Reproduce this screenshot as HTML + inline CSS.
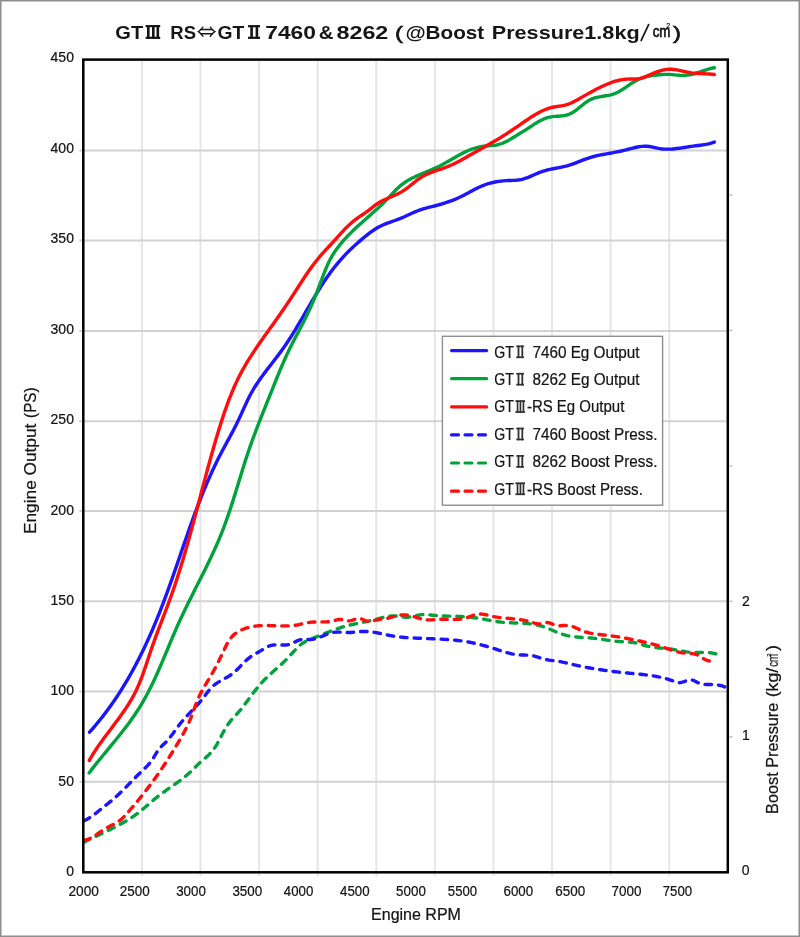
<!DOCTYPE html>
<html><head><meta charset="utf-8"><style>
html,body{margin:0;padding:0;background:#fff;}
svg{display:block;}
text{font-family:"Liberation Sans",sans-serif;stroke:#141414;stroke-width:0.22px;}
</style></head><body>
<svg width="800" height="937" viewBox="0 0 800 937">
<defs><filter id="bl" x="-1%" y="-1%" width="102%" height="102%" filterUnits="userSpaceOnUse"><feGaussianBlur stdDeviation="0.45 0.3"/></filter></defs>
<rect x="0" y="0" width="800" height="937" fill="#fff"/>
<g filter="url(#bl)">

<line x1="141.89" y1="59.60" x2="141.89" y2="876.30" stroke="#e6e6e6" stroke-width="2.0"/>
<line x1="200.48" y1="59.60" x2="200.48" y2="876.30" stroke="#e6e6e6" stroke-width="2.0"/>
<line x1="259.07" y1="59.60" x2="259.07" y2="876.30" stroke="#e6e6e6" stroke-width="2.0"/>
<line x1="317.66" y1="59.60" x2="317.66" y2="876.30" stroke="#e6e6e6" stroke-width="2.0"/>
<line x1="376.25" y1="59.60" x2="376.25" y2="876.30" stroke="#e6e6e6" stroke-width="2.0"/>
<line x1="434.85" y1="59.60" x2="434.85" y2="876.30" stroke="#e6e6e6" stroke-width="2.0"/>
<line x1="493.44" y1="59.60" x2="493.44" y2="876.30" stroke="#e6e6e6" stroke-width="2.0"/>
<line x1="552.03" y1="59.60" x2="552.03" y2="876.30" stroke="#e6e6e6" stroke-width="2.0"/>
<line x1="610.62" y1="59.60" x2="610.62" y2="876.30" stroke="#e6e6e6" stroke-width="2.0"/>
<line x1="669.21" y1="59.60" x2="669.21" y2="876.30" stroke="#e6e6e6" stroke-width="2.0"/>
<line x1="79.30" y1="150.40" x2="727.80" y2="150.40" stroke="#d2d2d2" stroke-width="2"/>
<line x1="79.30" y1="240.40" x2="727.80" y2="240.40" stroke="#d2d2d2" stroke-width="2"/>
<line x1="79.30" y1="330.90" x2="727.80" y2="330.90" stroke="#d2d2d2" stroke-width="2"/>
<line x1="79.30" y1="421.20" x2="727.80" y2="421.20" stroke="#d2d2d2" stroke-width="2"/>
<line x1="79.30" y1="511.00" x2="727.80" y2="511.00" stroke="#d2d2d2" stroke-width="2"/>
<line x1="79.30" y1="601.30" x2="727.80" y2="601.30" stroke="#d2d2d2" stroke-width="2"/>
<line x1="79.30" y1="691.60" x2="727.80" y2="691.60" stroke="#d2d2d2" stroke-width="2"/>
<line x1="79.30" y1="781.70" x2="727.80" y2="781.70" stroke="#d2d2d2" stroke-width="2"/>
<line x1="727.80" y1="736.85" x2="732.80" y2="736.85" stroke="#c8c8c8" stroke-width="1.5"/>
<line x1="727.80" y1="601.40" x2="732.80" y2="601.40" stroke="#c8c8c8" stroke-width="1.5"/>
<line x1="727.80" y1="465.95" x2="732.80" y2="465.95" stroke="#c8c8c8" stroke-width="1.5"/>
<line x1="727.80" y1="330.50" x2="732.80" y2="330.50" stroke="#c8c8c8" stroke-width="1.5"/>
<line x1="727.80" y1="195.05" x2="732.80" y2="195.05" stroke="#c8c8c8" stroke-width="1.5"/>
<path d="M84.02 842.14 L85.64 841.30 L87.27 840.47 L88.91 839.66 L90.55 838.85 L92.19 838.05 L93.84 837.25 L95.49 836.46 L97.14 835.68 L98.79 834.89 L100.44 834.11 L102.10 833.33 L103.75 832.54 L105.40 831.75 L107.05 830.96 L108.70 830.17 L110.34 829.37 L111.99 828.56 L113.62 827.74 L115.25 826.91 L116.88 826.07 L118.49 825.22 L120.11 824.35 L121.71 823.47 L123.30 822.58 L124.89 821.66 L126.46 820.73 L128.03 819.79 L129.58 818.82 L131.12 817.84 L132.64 816.83 L134.15 815.80 L135.65 814.76 L137.12 813.69 L138.58 812.60 L140.02 811.48 L141.45 810.34 L142.85 809.18 L144.25 808.01 L145.64 806.82 L147.02 805.63 L148.39 804.43 L149.77 803.23 L151.15 802.03 L152.53 800.84 L153.92 799.66 L155.33 798.49 L156.74 797.34 L158.18 796.21 L159.63 795.10 L161.09 794.00 L162.57 792.92 L164.05 791.85 L165.54 790.79 L167.04 789.73 L168.54 788.68 L170.04 787.64 L171.55 786.59 L173.05 785.55 L174.55 784.50 L176.05 783.45 L177.53 782.38 L179.01 781.31 L180.48 780.23 L181.93 779.13 L183.37 778.01 L184.80 776.88 L186.20 775.72 L187.59 774.54 L188.95 773.34 L190.29 772.11 L191.61 770.85 L192.91 769.57 L194.19 768.27 L195.48 766.97 L196.77 765.68 L198.07 764.39 L199.39 763.13 L200.75 761.90 L202.12 760.69 L203.52 759.50 L204.91 758.31 L206.29 757.11 L207.65 755.89 L208.97 754.64 L210.24 753.34 L211.46 751.99 L212.62 750.58 L213.72 749.13 L214.77 747.64 L215.78 746.11 L216.74 744.55 L217.66 742.97 L218.54 741.36 L219.40 739.74 L220.24 738.11 L221.07 736.47 L221.91 734.84 L222.75 733.21 L223.62 731.59 L224.51 729.99 L225.44 728.41 L226.40 726.86 L227.40 725.32 L228.43 723.82 L229.51 722.34 L230.62 720.90 L231.78 719.49 L232.97 718.11 L234.20 716.76 L235.45 715.43 L236.71 714.10 L237.95 712.76 L239.17 711.41 L240.35 710.03 L241.51 708.62 L242.64 707.20 L243.76 705.76 L244.86 704.30 L245.95 702.84 L247.03 701.37 L248.12 699.90 L249.20 698.42 L250.29 696.95 L251.39 695.48 L252.49 694.02 L253.61 692.56 L254.73 691.11 L255.86 689.67 L257.00 688.24 L258.16 686.82 L259.34 685.42 L260.53 684.04 L261.74 682.67 L262.97 681.32 L264.22 679.99 L265.49 678.69 L266.78 677.40 L268.10 676.14 L269.43 674.90 L270.77 673.67 L272.13 672.44 L273.49 671.23 L274.86 670.02 L276.23 668.81 L277.60 667.60 L278.96 666.39 L280.32 665.17 L281.67 663.93 L283.00 662.68 L284.32 661.41 L285.62 660.13 L286.90 658.82 L288.17 657.49 L289.42 656.16 L290.66 654.81 L291.91 653.47 L293.15 652.12 L294.40 650.79 L295.66 649.46 L296.93 648.15 L298.23 646.89 L299.56 645.67 L300.95 644.51 L302.39 643.44 L303.90 642.46 L305.47 641.55 L307.08 640.71 L308.73 639.93 L310.42 639.20 L312.13 638.50 L313.85 637.82 L315.59 637.16 L317.31 636.50 L319.04 635.83 L320.75 635.16 L322.45 634.48 L324.15 633.80 L325.85 633.13 L327.54 632.45 L329.24 631.78 L330.93 631.12 L332.63 630.47 L334.33 629.84 L336.03 629.22 L337.75 628.62 L339.47 628.04 L341.21 627.48 L342.95 626.95 L344.71 626.44 L346.48 625.96 L348.26 625.50 L350.04 625.07 L351.83 624.64 L353.62 624.24 L355.40 623.85 L357.19 623.47 L358.97 623.10 L360.75 622.73 L362.53 622.37 L364.31 622.00 L366.08 621.63 L367.86 621.26 L369.64 620.87 L371.41 620.48 L373.19 620.06 L374.96 619.63 L376.74 619.18 L378.52 618.70 L380.30 618.21 L382.08 617.72 L383.87 617.25 L385.65 616.82 L387.44 616.45 L389.24 616.15 L391.04 615.95 L392.84 615.86 L394.65 615.90 L396.46 616.06 L398.28 616.30 L400.09 616.58 L401.91 616.85 L403.72 617.08 L405.53 617.23 L407.33 617.25 L409.13 617.12 L410.92 616.86 L412.71 616.50 L414.49 616.08 L416.27 615.65 L418.06 615.24 L419.85 614.89 L421.65 614.64 L423.45 614.52 L425.26 614.53 L427.08 614.63 L428.90 614.80 L430.72 615.01 L432.55 615.24 L434.38 615.46 L436.20 615.64 L438.03 615.78 L439.86 615.88 L441.68 615.95 L443.51 616.01 L445.33 616.04 L447.16 616.08 L448.99 616.11 L450.81 616.14 L452.64 616.18 L454.47 616.23 L456.30 616.29 L458.13 616.36 L459.96 616.44 L461.79 616.53 L463.61 616.64 L465.44 616.77 L467.26 616.91 L469.08 617.08 L470.90 617.26 L472.71 617.47 L474.52 617.70 L476.33 617.95 L478.14 618.23 L479.94 618.53 L481.73 618.84 L483.53 619.17 L485.32 619.50 L487.12 619.84 L488.91 620.18 L490.71 620.51 L492.51 620.83 L494.31 621.14 L496.11 621.44 L497.92 621.71 L499.73 621.95 L501.54 622.17 L503.36 622.35 L505.19 622.51 L507.02 622.63 L508.85 622.74 L510.69 622.82 L512.53 622.90 L514.37 622.96 L516.21 623.02 L518.04 623.09 L519.88 623.16 L521.71 623.24 L523.54 623.33 L525.37 623.44 L527.19 623.58 L529.00 623.75 L530.81 623.94 L532.61 624.18 L534.40 624.46 L536.18 624.78 L537.95 625.16 L539.71 625.59 L541.45 626.08 L543.19 626.64 L544.91 627.24 L546.62 627.89 L548.33 628.58 L550.03 629.29 L551.73 630.01 L553.43 630.74 L555.13 631.47 L556.84 632.18 L558.54 632.86 L560.26 633.52 L561.98 634.13 L563.72 634.69 L565.46 635.18 L567.22 635.61 L569.00 635.98 L570.78 636.29 L572.58 636.55 L574.38 636.77 L576.19 636.95 L578.01 637.11 L579.84 637.24 L581.66 637.36 L583.49 637.47 L585.32 637.58 L587.16 637.69 L588.99 637.81 L590.82 637.95 L592.64 638.12 L594.46 638.32 L596.28 638.54 L598.09 638.78 L599.90 639.04 L601.71 639.31 L603.51 639.59 L605.32 639.87 L607.13 640.15 L608.93 640.42 L610.74 640.68 L612.55 640.93 L614.37 641.15 L616.18 641.34 L618.01 641.51 L619.83 641.64 L621.66 641.74 L623.50 641.81 L625.33 641.87 L627.17 641.95 L628.99 642.05 L630.81 642.20 L632.62 642.41 L634.41 642.70 L636.19 643.08 L637.95 643.52 L639.71 644.00 L641.47 644.51 L643.22 645.03 L644.98 645.53 L646.74 646.00 L648.52 646.41 L650.31 646.77 L652.10 647.07 L653.91 647.33 L655.72 647.56 L657.54 647.76 L659.36 647.94 L661.19 648.10 L663.02 648.26 L664.84 648.43 L666.67 648.61 L668.49 648.80 L670.31 649.02 L672.13 649.28 L673.94 649.57 L675.74 649.89 L677.54 650.22 L679.34 650.56 L681.13 650.90 L682.92 651.23 L684.71 651.54 L686.50 651.82 L688.29 652.07 L690.09 652.27 L691.88 652.42 L693.68 652.50 L695.48 652.53 L697.29 652.52 L699.09 652.49 L700.90 652.45 L702.71 652.42 L704.53 652.41 L706.34 652.45 L708.16 652.54 L709.97 652.71 L711.78 652.97 L713.60 653.32 L715.40 653.74 L717.20 654.21 L718.99 654.70 L720.75 655.18 L722.50 655.64" fill="none" stroke="#04a33b" stroke-width="3.4" stroke-linejoin="round" stroke-dasharray="6.5 7" stroke-linecap="round"/>
<path d="M83.99 820.75 L85.67 819.97 L87.29 819.12 L88.86 818.21 L90.39 817.25 L91.88 816.24 L93.34 815.19 L94.77 814.11 L96.19 813.01 L97.59 811.89 L98.98 810.75 L100.38 809.62 L101.78 808.49 L103.18 807.36 L104.59 806.23 L106.01 805.10 L107.42 803.97 L108.83 802.83 L110.23 801.69 L111.63 800.54 L113.01 799.38 L114.39 798.20 L115.75 797.02 L117.10 795.81 L118.43 794.58 L119.75 793.34 L121.05 792.09 L122.34 790.82 L123.63 789.54 L124.90 788.25 L126.17 786.95 L127.43 785.65 L128.69 784.34 L129.95 783.04 L131.21 781.73 L132.48 780.42 L133.75 779.12 L135.02 777.83 L136.31 776.54 L137.61 775.27 L138.91 774.00 L140.23 772.75 L141.56 771.50 L142.88 770.25 L144.18 768.99 L145.47 767.72 L146.74 766.42 L147.97 765.10 L149.17 763.75 L150.32 762.35 L151.41 760.91 L152.44 759.42 L153.42 757.89 L154.37 756.32 L155.30 754.74 L156.24 753.17 L157.22 751.63 L158.25 750.13 L159.35 748.70 L160.55 747.34 L161.84 746.06 L163.17 744.81 L164.51 743.57 L165.80 742.30 L167.05 740.98 L168.24 739.62 L169.40 738.22 L170.52 736.80 L171.61 735.35 L172.68 733.89 L173.74 732.42 L174.80 730.94 L175.85 729.46 L176.91 727.98 L177.99 726.52 L179.09 725.08 L180.21 723.65 L181.36 722.25 L182.54 720.87 L183.73 719.51 L184.94 718.16 L186.16 716.82 L187.40 715.49 L188.64 714.16 L189.89 712.84 L191.14 711.53 L192.40 710.21 L193.65 708.89 L194.89 707.57 L196.13 706.24 L197.35 704.90 L198.56 703.55 L199.75 702.18 L200.93 700.80 L202.08 699.39 L203.22 697.97 L204.32 696.52 L205.42 695.05 L206.50 693.58 L207.60 692.12 L208.72 690.69 L209.87 689.29 L211.07 687.96 L212.33 686.69 L213.67 685.51 L215.07 684.40 L216.53 683.36 L218.05 682.38 L219.60 681.43 L221.17 680.52 L222.77 679.63 L224.37 678.74 L225.97 677.84 L227.55 676.93 L229.11 675.98 L230.64 674.99 L232.12 673.95 L233.55 672.83 L234.92 671.66 L236.25 670.44 L237.55 669.17 L238.83 667.88 L240.09 666.56 L241.35 665.24 L242.60 663.93 L243.88 662.63 L245.17 661.35 L246.49 660.12 L247.86 658.93 L249.27 657.80 L250.74 656.74 L252.26 655.74 L253.82 654.79 L255.41 653.87 L257.02 652.95 L258.62 652.03 L260.21 651.09 L261.78 650.12 L263.33 649.14 L264.89 648.19 L266.45 647.31 L268.03 646.52 L269.65 645.86 L271.31 645.36 L273.02 645.05 L274.78 644.90 L276.58 644.86 L278.40 644.89 L280.23 644.96 L282.08 645.03 L283.91 645.04 L285.74 644.97 L287.54 644.78 L289.31 644.41 L291.03 643.84 L292.72 643.10 L294.39 642.26 L296.05 641.41 L297.72 640.63 L299.43 640.00 L301.18 639.61 L302.97 639.44 L304.79 639.41 L306.63 639.46 L308.48 639.52 L310.31 639.51 L312.11 639.37 L313.89 639.07 L315.65 638.63 L317.38 638.09 L319.10 637.46 L320.81 636.78 L322.51 636.06 L324.21 635.33 L325.90 634.63 L327.61 633.96 L329.32 633.37 L331.05 632.88 L332.80 632.50 L334.56 632.26 L336.35 632.14 L338.15 632.10 L339.97 632.14 L341.79 632.21 L343.62 632.31 L345.45 632.41 L347.29 632.48 L349.12 632.50 L350.94 632.44 L352.76 632.32 L354.57 632.14 L356.38 631.95 L358.19 631.76 L359.99 631.60 L361.80 631.49 L363.61 631.45 L365.42 631.47 L367.23 631.55 L369.04 631.69 L370.85 631.88 L372.66 632.11 L374.46 632.37 L376.26 632.68 L378.05 633.00 L379.83 633.35 L381.61 633.72 L383.38 634.10 L385.13 634.48 L386.88 634.87 L388.62 635.24 L390.37 635.60 L392.12 635.92 L393.89 636.21 L395.66 636.47 L397.44 636.71 L399.22 636.93 L401.01 637.12 L402.81 637.29 L404.61 637.45 L406.42 637.58 L408.23 637.71 L410.04 637.82 L411.86 637.92 L413.68 638.01 L415.50 638.10 L417.32 638.18 L419.14 638.25 L420.96 638.32 L422.78 638.39 L424.60 638.46 L426.43 638.53 L428.25 638.60 L430.07 638.67 L431.89 638.74 L433.71 638.81 L435.53 638.89 L437.35 638.97 L439.17 639.06 L440.99 639.15 L442.81 639.25 L444.62 639.36 L446.43 639.48 L448.24 639.61 L450.05 639.75 L451.86 639.90 L453.67 640.07 L455.47 640.25 L457.27 640.44 L459.06 640.65 L460.86 640.87 L462.65 641.11 L464.43 641.37 L466.22 641.65 L468.00 641.95 L469.77 642.27 L471.54 642.61 L473.31 642.97 L475.08 643.35 L476.84 643.75 L478.60 644.17 L480.35 644.60 L482.10 645.05 L483.85 645.52 L485.60 646.01 L487.34 646.51 L489.08 647.03 L490.82 647.56 L492.56 648.11 L494.29 648.67 L496.02 649.23 L497.75 649.81 L499.48 650.37 L501.22 650.94 L502.95 651.48 L504.69 652.01 L506.44 652.51 L508.19 652.98 L509.94 653.42 L511.71 653.81 L513.48 654.15 L515.26 654.44 L517.06 654.67 L518.86 654.84 L520.68 654.94 L522.51 655.00 L524.34 655.04 L526.16 655.09 L527.98 655.17 L529.79 655.31 L531.58 655.53 L533.35 655.85 L535.10 656.28 L536.84 656.79 L538.56 657.34 L540.29 657.92 L542.02 658.48 L543.75 658.99 L545.51 659.44 L547.28 659.80 L549.07 660.10 L550.87 660.35 L552.68 660.57 L554.48 660.79 L556.29 661.02 L558.08 661.28 L559.87 661.59 L561.65 661.94 L563.42 662.31 L565.19 662.71 L566.95 663.13 L568.71 663.55 L570.47 663.97 L572.24 664.39 L574.01 664.80 L575.78 665.19 L577.55 665.58 L579.32 665.96 L581.10 666.33 L582.88 666.68 L584.66 667.03 L586.45 667.37 L588.23 667.71 L590.02 668.03 L591.81 668.34 L593.60 668.65 L595.40 668.95 L597.19 669.24 L598.98 669.52 L600.78 669.79 L602.58 670.05 L604.38 670.31 L606.17 670.56 L607.97 670.80 L609.77 671.04 L611.57 671.27 L613.37 671.49 L615.17 671.70 L616.97 671.91 L618.77 672.11 L620.57 672.31 L622.37 672.49 L624.17 672.67 L625.97 672.85 L627.77 673.02 L629.57 673.20 L631.36 673.37 L633.16 673.54 L634.96 673.71 L636.76 673.89 L638.56 674.07 L640.36 674.26 L642.16 674.45 L643.96 674.66 L645.76 674.87 L647.57 675.10 L649.37 675.34 L651.18 675.59 L652.98 675.87 L654.79 676.16 L656.58 676.48 L658.38 676.82 L660.16 677.18 L661.94 677.58 L663.70 678.01 L665.46 678.47 L667.19 678.98 L668.92 679.52 L670.62 680.10 L672.31 680.72 L673.97 681.39 L675.62 682.06 L677.28 682.55 L678.96 682.71 L680.66 682.54 L682.39 682.14 L684.15 681.58 L685.92 680.94 L687.70 680.34 L689.46 679.93 L691.20 679.86 L692.89 680.22 L694.55 680.92 L696.20 681.79 L697.86 682.66 L699.55 683.38 L701.28 683.89 L703.04 684.22 L704.83 684.40 L706.64 684.48 L708.46 684.49 L710.29 684.49 L712.11 684.51 L713.93 684.58 L715.73 684.72 L717.53 684.95 L719.31 685.26 L721.07 685.66 L722.81 686.17 L724.54 686.78 L726.25 687.50" fill="none" stroke="#1c12ff" stroke-width="3.4" stroke-linejoin="round" stroke-dasharray="6.5 7" stroke-linecap="round"/>
<path d="M84.00 840.40 L85.90 839.96 L87.73 839.37 L89.48 838.65 L91.18 837.83 L92.82 836.91 L94.43 835.93 L96.01 834.89 L97.57 833.82 L99.13 832.74 L100.70 831.66 L102.28 830.61 L103.87 829.59 L105.49 828.59 L107.12 827.64 L108.79 826.73 L110.48 825.86 L112.18 825.02 L113.88 824.18 L115.55 823.31 L117.18 822.38 L118.74 821.35 L120.23 820.21 L121.65 818.99 L123.02 817.69 L124.34 816.33 L125.64 814.94 L126.91 813.52 L128.17 812.08 L129.43 810.65 L130.68 809.21 L131.92 807.77 L133.16 806.32 L134.39 804.87 L135.61 803.42 L136.82 801.96 L138.03 800.50 L139.23 799.04 L140.43 797.57 L141.61 796.09 L142.79 794.62 L143.97 793.13 L145.13 791.64 L146.29 790.15 L147.44 788.65 L148.58 787.15 L149.72 785.64 L150.85 784.13 L151.97 782.61 L153.08 781.08 L154.19 779.55 L155.29 778.02 L156.38 776.48 L157.46 774.93 L158.54 773.38 L159.61 771.82 L160.67 770.25 L161.73 768.68 L162.78 767.11 L163.82 765.53 L164.86 763.95 L165.89 762.37 L166.92 760.77 L167.94 759.18 L168.95 757.58 L169.96 755.98 L170.97 754.37 L171.97 752.77 L172.96 751.15 L173.95 749.54 L174.94 747.92 L175.92 746.30 L176.90 744.68 L177.87 743.05 L178.84 741.43 L179.81 739.79 L180.76 738.16 L181.70 736.52 L182.63 734.87 L183.55 733.21 L184.45 731.55 L185.34 729.88 L186.20 728.20 L187.04 726.51 L187.86 724.81 L188.65 723.09 L189.42 721.36 L190.16 719.62 L190.87 717.87 L191.55 716.10 L192.22 714.33 L192.87 712.54 L193.52 710.76 L194.17 708.97 L194.81 707.19 L195.47 705.40 L196.14 703.63 L196.82 701.86 L197.54 700.10 L198.28 698.36 L199.06 696.63 L199.87 694.92 L200.72 693.23 L201.60 691.55 L202.50 689.88 L203.43 688.22 L204.38 686.58 L205.34 684.94 L206.31 683.31 L207.29 681.68 L208.27 680.05 L209.25 678.43 L210.23 676.81 L211.19 675.18 L212.14 673.55 L213.07 671.91 L213.99 670.27 L214.88 668.62 L215.76 666.97 L216.63 665.30 L217.48 663.63 L218.32 661.96 L219.16 660.27 L219.98 658.58 L220.80 656.88 L221.61 655.18 L222.42 653.46 L223.23 651.74 L224.05 650.01 L224.86 648.28 L225.69 646.54 L226.55 644.83 L227.44 643.15 L228.39 641.51 L229.40 639.92 L230.49 638.41 L231.66 636.97 L232.93 635.63 L234.30 634.38 L235.77 633.23 L237.32 632.17 L238.94 631.21 L240.63 630.33 L242.38 629.53 L244.18 628.82 L246.01 628.19 L247.88 627.64 L249.77 627.16 L251.66 626.75 L253.56 626.41 L255.47 626.14 L257.37 625.92 L259.26 625.76 L261.16 625.64 L263.06 625.57 L264.95 625.53 L266.85 625.53 L268.74 625.55 L270.63 625.59 L272.52 625.64 L274.41 625.70 L276.29 625.76 L278.18 625.82 L280.06 625.86 L281.94 625.90 L283.82 625.91 L285.70 625.90 L287.58 625.86 L289.45 625.78 L291.32 625.65 L293.19 625.48 L295.06 625.25 L296.92 624.96 L298.79 624.61 L300.65 624.21 L302.51 623.79 L304.37 623.37 L306.23 622.97 L308.09 622.63 L309.95 622.36 L311.81 622.16 L313.68 622.03 L315.55 621.95 L317.43 621.91 L319.32 621.90 L321.22 621.90 L323.12 621.90 L325.03 621.88 L326.94 621.81 L328.84 621.66 L330.72 621.40 L332.58 621.01 L334.41 620.50 L336.23 619.97 L338.03 619.55 L339.84 619.37 L341.66 619.54 L343.48 619.95 L345.32 620.42 L347.17 620.78 L349.02 620.87 L350.87 620.59 L352.73 620.07 L354.57 619.45 L356.38 618.88 L358.17 618.52 L359.93 618.52 L361.64 618.98 L363.33 619.73 L365.01 620.55 L366.72 621.21 L368.47 621.50 L370.26 621.40 L372.09 621.03 L373.95 620.57 L375.83 620.14 L377.72 619.82 L379.61 619.57 L381.51 619.35 L383.39 619.11 L385.27 618.83 L387.12 618.45 L388.96 617.97 L390.78 617.43 L392.60 616.87 L394.42 616.31 L396.23 615.80 L398.06 615.36 L399.91 615.05 L401.77 614.88 L403.65 614.85 L405.54 614.95 L407.44 615.17 L409.33 615.49 L411.21 615.91 L413.08 616.40 L414.93 616.96 L416.76 617.54 L418.59 618.12 L420.41 618.67 L422.24 619.15 L424.07 619.53 L425.91 619.79 L427.77 619.91 L429.64 619.91 L431.52 619.83 L433.41 619.70 L435.31 619.54 L437.21 619.41 L439.12 619.31 L441.02 619.27 L442.93 619.27 L444.84 619.31 L446.75 619.35 L448.66 619.41 L450.56 619.45 L452.46 619.47 L454.36 619.46 L456.25 619.41 L458.13 619.30 L460.00 619.12 L461.87 618.85 L463.72 618.50 L465.56 618.03 L467.39 617.46 L469.22 616.81 L471.03 616.13 L472.84 615.48 L474.66 614.90 L476.48 614.42 L478.30 614.11 L480.13 614.00 L481.98 614.09 L483.83 614.34 L485.69 614.71 L487.55 615.15 L489.42 615.63 L491.30 616.09 L493.18 616.51 L495.06 616.87 L496.94 617.19 L498.82 617.45 L500.70 617.69 L502.58 617.89 L504.47 618.07 L506.35 618.23 L508.23 618.39 L510.11 618.54 L511.99 618.70 L513.87 618.88 L515.75 619.07 L517.62 619.29 L519.49 619.54 L521.36 619.83 L523.23 620.17 L525.09 620.54 L526.96 620.96 L528.82 621.42 L530.69 621.93 L532.55 622.49 L534.41 623.05 L536.26 623.52 L538.09 623.85 L539.89 623.93 L541.65 623.71 L543.37 623.21 L545.08 622.71 L546.78 622.50 L548.50 622.71 L550.24 623.23 L552.00 623.92 L553.79 624.63 L555.62 625.24 L557.48 625.60 L559.38 625.73 L561.29 625.68 L563.22 625.56 L565.13 625.44 L567.03 625.41 L568.90 625.55 L570.73 625.90 L572.52 626.45 L574.30 627.15 L576.05 627.94 L577.80 628.77 L579.55 629.61 L581.31 630.40 L583.09 631.10 L584.88 631.72 L586.69 632.26 L588.51 632.73 L590.35 633.14 L592.19 633.50 L594.05 633.80 L595.91 634.08 L597.78 634.32 L599.65 634.53 L601.53 634.74 L603.41 634.94 L605.29 635.13 L607.17 635.34 L609.05 635.57 L610.93 635.81 L612.80 636.07 L614.67 636.34 L616.54 636.63 L618.41 636.93 L620.28 637.24 L622.14 637.57 L624.01 637.91 L625.87 638.25 L627.73 638.61 L629.59 638.97 L631.45 639.34 L633.31 639.72 L635.16 640.09 L637.02 640.48 L638.87 640.87 L640.72 641.26 L642.57 641.67 L644.42 642.08 L646.26 642.51 L648.10 642.95 L649.94 643.41 L651.77 643.88 L653.60 644.36 L655.43 644.87 L657.25 645.40 L659.07 645.95 L660.88 646.53 L662.69 647.12 L664.49 647.73 L666.29 648.35 L668.09 648.96 L669.90 649.57 L671.70 650.15 L673.52 650.71 L675.34 651.24 L677.16 651.73 L679.00 652.17 L680.85 652.55 L682.72 652.87 L684.60 653.12 L686.49 653.29 L688.40 653.39 L690.30 653.47 L692.18 653.60 L694.02 653.85 L695.78 654.29 L697.46 654.95 L699.08 655.82 L700.66 656.82 L702.26 657.86 L703.89 658.87 L705.56 659.77 L707.29 660.49 L709.09 660.95 L710.96 661.07 L712.93 660.78 L715.00 660.00" fill="none" stroke="#ff0b0b" stroke-width="3.4" stroke-linejoin="round" stroke-dasharray="6.5 7" stroke-linecap="round"/>
<path d="M89.55 732.12 L91.13 730.35 L92.69 728.58 L94.23 726.80 L95.76 725.00 L97.27 723.20 L98.77 721.38 L100.25 719.55 L101.71 717.71 L103.16 715.86 L104.59 713.99 L106.01 712.12 L107.41 710.24 L108.80 708.35 L110.18 706.45 L111.54 704.53 L112.88 702.61 L114.21 700.68 L115.53 698.74 L116.83 696.79 L118.12 694.83 L119.39 692.86 L120.66 690.89 L121.91 688.90 L123.14 686.91 L124.36 684.91 L125.57 682.90 L126.77 680.88 L127.95 678.85 L129.13 676.82 L130.29 674.78 L131.44 672.73 L132.57 670.68 L133.70 668.62 L134.81 666.55 L135.91 664.47 L137.00 662.39 L138.08 660.30 L139.15 658.21 L140.20 656.11 L141.25 654.00 L142.29 651.89 L143.31 649.77 L144.33 647.65 L145.33 645.52 L146.33 643.38 L147.32 641.24 L148.29 639.10 L149.26 636.95 L150.22 634.80 L151.17 632.64 L152.11 630.48 L153.04 628.31 L153.96 626.14 L154.87 623.97 L155.78 621.79 L156.68 619.61 L157.56 617.43 L158.45 615.24 L159.32 613.05 L160.19 610.86 L161.04 608.66 L161.90 606.47 L162.74 604.27 L163.58 602.06 L164.41 599.86 L165.23 597.65 L166.05 595.45 L166.87 593.24 L167.67 591.02 L168.48 588.81 L169.27 586.60 L170.07 584.38 L170.86 582.16 L171.64 579.94 L172.42 577.73 L173.20 575.51 L173.98 573.28 L174.75 571.06 L175.52 568.84 L176.29 566.62 L177.06 564.39 L177.82 562.17 L178.59 559.95 L179.35 557.73 L180.11 555.50 L180.87 553.28 L181.64 551.06 L182.40 548.83 L183.17 546.61 L183.93 544.39 L184.70 542.17 L185.47 539.95 L186.24 537.73 L187.01 535.52 L187.78 533.30 L188.56 531.09 L189.34 528.87 L190.13 526.66 L190.92 524.45 L191.71 522.24 L192.51 520.04 L193.31 517.83 L194.11 515.63 L194.93 513.43 L195.74 511.23 L196.57 509.04 L197.40 506.84 L198.24 504.65 L199.08 502.47 L199.93 500.28 L200.79 498.10 L201.65 495.92 L202.53 493.75 L203.41 491.58 L204.30 489.41 L205.20 487.24 L206.11 485.08 L207.03 482.92 L207.96 480.77 L208.90 478.62 L209.85 476.47 L210.81 474.33 L211.78 472.19 L212.76 470.06 L213.76 467.93 L214.77 465.81 L215.79 463.69 L216.82 461.58 L217.86 459.47 L218.92 457.36 L219.99 455.27 L221.08 453.17 L222.18 451.08 L223.29 449.00 L224.40 446.91 L225.53 444.83 L226.65 442.75 L227.78 440.67 L228.91 438.59 L230.03 436.51 L231.15 434.42 L232.26 432.33 L233.37 430.23 L234.46 428.13 L235.53 426.02 L236.59 423.90 L237.64 421.78 L238.66 419.64 L239.66 417.49 L240.65 415.34 L241.64 413.19 L242.61 411.03 L243.59 408.88 L244.56 406.73 L245.55 404.59 L246.55 402.45 L247.56 400.33 L248.59 398.22 L249.65 396.13 L250.74 394.06 L251.86 392.01 L253.02 389.98 L254.21 387.98 L255.44 386.00 L256.70 384.04 L258.00 382.10 L259.31 380.18 L260.66 378.27 L262.02 376.38 L263.41 374.49 L264.81 372.62 L266.22 370.75 L267.64 368.89 L269.07 367.04 L270.51 365.19 L271.95 363.33 L273.39 361.48 L274.83 359.62 L276.26 357.76 L277.68 355.89 L279.09 354.01 L280.49 352.12 L281.87 350.22 L283.24 348.31 L284.58 346.38 L285.91 344.43 L287.22 342.48 L288.52 340.51 L289.80 338.53 L291.06 336.55 L292.32 334.55 L293.56 332.54 L294.80 330.53 L296.02 328.51 L297.23 326.49 L298.44 324.45 L299.64 322.42 L300.84 320.38 L302.03 318.34 L303.22 316.29 L304.40 314.24 L305.59 312.20 L306.77 310.15 L307.96 308.10 L309.15 306.06 L310.34 304.02 L311.53 301.98 L312.73 299.94 L313.93 297.91 L315.14 295.89 L316.36 293.87 L317.59 291.86 L318.83 289.86 L320.08 287.86 L321.34 285.88 L322.62 283.90 L323.90 281.94 L325.21 279.99 L326.53 278.05 L327.87 276.13 L329.22 274.21 L330.60 272.32 L331.99 270.44 L333.41 268.57 L334.84 266.73 L336.31 264.90 L337.79 263.09 L339.30 261.30 L340.84 259.53 L342.41 257.79 L344.00 256.06 L345.62 254.36 L347.26 252.67 L348.93 251.01 L350.63 249.36 L352.34 247.74 L354.07 246.13 L355.82 244.54 L357.59 242.96 L359.37 241.40 L361.16 239.85 L362.97 238.32 L364.78 236.80 L366.62 235.31 L368.47 233.85 L370.35 232.43 L372.25 231.05 L374.19 229.74 L376.17 228.49 L378.18 227.32 L380.24 226.23 L382.35 225.23 L384.50 224.30 L386.68 223.43 L388.89 222.60 L391.11 221.80 L393.35 221.01 L395.58 220.23 L397.81 219.42 L400.02 218.58 L402.21 217.69 L404.38 216.75 L406.53 215.78 L408.67 214.79 L410.80 213.80 L412.94 212.82 L415.09 211.87 L417.26 210.97 L419.45 210.14 L421.67 209.37 L423.92 208.68 L426.19 208.05 L428.48 207.45 L430.77 206.87 L433.06 206.31 L435.35 205.73 L437.63 205.13 L439.90 204.51 L442.15 203.86 L444.39 203.18 L446.62 202.46 L448.83 201.71 L451.03 200.91 L453.22 200.08 L455.39 199.20 L457.54 198.27 L459.68 197.29 L461.80 196.26 L463.91 195.19 L466.00 194.08 L468.10 192.96 L470.19 191.83 L472.28 190.70 L474.38 189.59 L476.49 188.52 L478.61 187.48 L480.75 186.49 L482.91 185.58 L485.09 184.74 L487.31 183.99 L489.55 183.32 L491.81 182.73 L494.10 182.22 L496.40 181.78 L498.72 181.41 L501.06 181.11 L503.40 180.86 L505.76 180.67 L508.12 180.52 L510.48 180.43 L512.84 180.36 L515.19 180.26 L517.53 180.10 L519.83 179.80 L522.10 179.33 L524.33 178.71 L526.55 177.96 L528.74 177.11 L530.92 176.19 L533.09 175.23 L535.27 174.26 L537.45 173.32 L539.65 172.43 L541.87 171.62 L544.12 170.90 L546.39 170.27 L548.67 169.71 L550.97 169.20 L553.28 168.72 L555.59 168.27 L557.91 167.82 L560.22 167.37 L562.52 166.89 L564.81 166.37 L567.09 165.80 L569.34 165.15 L571.58 164.43 L573.79 163.64 L576.00 162.80 L578.19 161.94 L580.39 161.06 L582.58 160.19 L584.79 159.34 L587.00 158.54 L589.24 157.79 L591.49 157.12 L593.76 156.50 L596.05 155.94 L598.35 155.42 L600.66 154.94 L602.97 154.49 L605.29 154.06 L607.60 153.64 L609.92 153.22 L612.23 152.81 L614.54 152.38 L616.85 151.94 L619.15 151.47 L621.45 150.98 L623.75 150.44 L626.05 149.86 L628.34 149.26 L630.63 148.65 L632.93 148.06 L635.22 147.51 L637.52 147.04 L639.82 146.65 L642.12 146.39 L644.44 146.26 L646.75 146.31 L649.08 146.54 L651.41 146.92 L653.75 147.40 L656.09 147.91 L658.43 148.37 L660.78 148.73 L663.12 148.97 L665.46 149.10 L667.81 149.13 L670.15 149.08 L672.49 148.95 L674.84 148.75 L677.18 148.50 L679.52 148.21 L681.86 147.88 L684.20 147.53 L686.53 147.16 L688.86 146.80 L691.19 146.44 L693.51 146.09 L695.83 145.78 L698.14 145.49 L700.45 145.20 L702.75 144.89 L705.06 144.53 L707.36 144.10 L709.67 143.56 L711.98 142.91 L714.30 142.10" fill="none" stroke="#1c12ff" stroke-width="3.4" stroke-linejoin="round" stroke-linecap="round"/>
<path d="M89.12 772.92 L90.65 770.91 L92.19 768.91 L93.75 766.91 L95.32 764.92 L96.91 762.93 L98.50 760.95 L100.10 758.97 L101.71 757.00 L103.32 755.03 L104.94 753.06 L106.56 751.09 L108.19 749.12 L109.81 747.15 L111.43 745.18 L113.05 743.20 L114.66 741.23 L116.27 739.25 L117.88 737.26 L119.47 735.27 L121.05 733.28 L122.63 731.28 L124.19 729.27 L125.74 727.25 L127.27 725.22 L128.78 723.18 L130.28 721.13 L131.76 719.07 L133.22 717.00 L134.65 714.92 L136.06 712.82 L137.45 710.70 L138.81 708.58 L140.14 706.43 L141.45 704.27 L142.73 702.10 L143.98 699.91 L145.22 697.70 L146.42 695.49 L147.61 693.26 L148.78 691.01 L149.92 688.76 L151.05 686.50 L152.16 684.22 L153.26 681.94 L154.34 679.65 L155.41 677.34 L156.46 675.04 L157.50 672.72 L158.53 670.40 L159.55 668.07 L160.56 665.73 L161.57 663.39 L162.56 661.05 L163.56 658.70 L164.54 656.35 L165.53 654.00 L166.51 651.64 L167.49 649.29 L168.47 646.93 L169.46 644.58 L170.44 642.22 L171.43 639.87 L172.42 637.51 L173.42 635.16 L174.42 632.82 L175.43 630.47 L176.45 628.13 L177.48 625.80 L178.52 623.47 L179.58 621.15 L180.64 618.83 L181.72 616.52 L182.80 614.21 L183.90 611.91 L185.00 609.62 L186.11 607.32 L187.23 605.04 L188.35 602.75 L189.49 600.47 L190.62 598.19 L191.76 595.92 L192.90 593.64 L194.05 591.37 L195.19 589.10 L196.34 586.83 L197.49 584.56 L198.64 582.29 L199.78 580.02 L200.93 577.75 L202.07 575.48 L203.20 573.21 L204.34 570.93 L205.46 568.66 L206.58 566.38 L207.70 564.10 L208.81 561.82 L209.90 559.53 L210.99 557.24 L212.07 554.95 L213.14 552.65 L214.20 550.34 L215.24 548.03 L216.27 545.72 L217.29 543.40 L218.29 541.07 L219.28 538.74 L220.25 536.40 L221.20 534.05 L222.14 531.69 L223.06 529.33 L223.96 526.96 L224.85 524.58 L225.72 522.19 L226.57 519.80 L227.42 517.41 L228.25 515.00 L229.07 512.60 L229.87 510.18 L230.67 507.77 L231.46 505.35 L232.24 502.92 L233.02 500.49 L233.78 498.06 L234.54 495.63 L235.30 493.20 L236.05 490.76 L236.80 488.32 L237.55 485.88 L238.30 483.44 L239.04 481.00 L239.79 478.57 L240.54 476.13 L241.29 473.69 L242.04 471.25 L242.80 468.82 L243.56 466.39 L244.33 463.96 L245.10 461.53 L245.88 459.11 L246.67 456.69 L247.47 454.27 L248.28 451.86 L249.10 449.46 L249.93 447.05 L250.77 444.66 L251.63 442.27 L252.49 439.88 L253.36 437.50 L254.24 435.12 L255.13 432.74 L256.03 430.37 L256.93 428.00 L257.84 425.63 L258.76 423.27 L259.68 420.91 L260.61 418.55 L261.54 416.19 L262.48 413.83 L263.42 411.48 L264.36 409.12 L265.30 406.77 L266.25 404.42 L267.20 402.06 L268.14 399.71 L269.09 397.36 L270.04 395.00 L270.98 392.65 L271.93 390.29 L272.87 387.94 L273.81 385.58 L274.76 383.22 L275.70 380.86 L276.65 378.51 L277.60 376.15 L278.56 373.80 L279.52 371.45 L280.50 369.11 L281.49 366.76 L282.48 364.43 L283.49 362.10 L284.52 359.77 L285.56 357.46 L286.62 355.15 L287.70 352.85 L288.80 350.55 L289.91 348.27 L291.05 345.99 L292.19 343.72 L293.35 341.46 L294.52 339.20 L295.69 336.94 L296.87 334.68 L298.05 332.43 L299.23 330.18 L300.41 327.93 L301.58 325.67 L302.75 323.42 L303.90 321.16 L305.04 318.90 L306.17 316.63 L307.28 314.36 L308.37 312.08 L309.44 309.80 L310.49 307.51 L311.51 305.20 L312.52 302.89 L313.50 300.57 L314.46 298.25 L315.41 295.91 L316.35 293.56 L317.28 291.21 L318.19 288.84 L319.10 286.47 L320.01 284.08 L320.91 281.69 L321.81 279.29 L322.71 276.88 L323.62 274.47 L324.55 272.06 L325.50 269.66 L326.49 267.28 L327.51 264.93 L328.59 262.60 L329.72 260.32 L330.91 258.07 L332.16 255.87 L333.49 253.71 L334.87 251.60 L336.31 249.53 L337.80 247.49 L339.34 245.50 L340.93 243.53 L342.57 241.60 L344.24 239.70 L345.96 237.83 L347.71 235.99 L349.48 234.17 L351.29 232.37 L353.12 230.59 L354.97 228.83 L356.84 227.09 L358.73 225.36 L360.63 223.65 L362.53 221.94 L364.44 220.24 L366.35 218.55 L368.26 216.87 L370.16 215.18 L372.06 213.50 L373.95 211.81 L375.83 210.11 L377.70 208.40 L379.56 206.68 L381.40 204.94 L383.23 203.19 L385.04 201.41 L386.82 199.60 L388.59 197.76 L390.34 195.90 L392.07 194.02 L393.81 192.15 L395.58 190.30 L397.38 188.50 L399.24 186.76 L401.17 185.12 L403.18 183.57 L405.27 182.13 L407.42 180.78 L409.63 179.51 L411.88 178.31 L414.17 177.17 L416.48 176.09 L418.81 175.06 L421.16 174.06 L423.51 173.07 L425.87 172.11 L428.23 171.14 L430.58 170.16 L432.92 169.16 L435.25 168.13 L437.55 167.06 L439.83 165.94 L442.08 164.76 L444.31 163.54 L446.52 162.29 L448.72 161.02 L450.92 159.73 L453.12 158.45 L455.32 157.17 L457.54 155.91 L459.77 154.69 L462.02 153.50 L464.30 152.37 L466.60 151.29 L468.93 150.29 L471.29 149.36 L473.67 148.52 L476.09 147.78 L478.53 147.15 L481.00 146.63 L483.51 146.23 L486.04 145.97 L488.60 145.80 L491.16 145.65 L493.70 145.43 L496.20 145.06 L498.66 144.49 L501.06 143.75 L503.41 142.85 L505.71 141.80 L507.98 140.64 L510.21 139.38 L512.42 138.07 L514.61 136.72 L516.79 135.36 L518.97 134.01 L521.14 132.67 L523.31 131.33 L525.46 129.98 L527.61 128.61 L529.75 127.21 L531.88 125.81 L534.02 124.41 L536.16 123.05 L538.34 121.75 L540.54 120.54 L542.79 119.44 L545.10 118.48 L547.47 117.68 L549.91 117.07 L552.43 116.67 L555.01 116.41 L557.62 116.22 L560.22 116.03 L562.79 115.77 L565.31 115.37 L567.74 114.75 L570.05 113.86 L572.27 112.71 L574.40 111.37 L576.48 109.87 L578.51 108.27 L580.52 106.62 L582.54 104.96 L584.57 103.36 L586.65 101.85 L588.79 100.48 L591.01 99.32 L593.33 98.39 L595.74 97.66 L598.20 97.08 L600.71 96.61 L603.25 96.20 L605.79 95.79 L608.31 95.34 L610.79 94.79 L613.22 94.11 L615.57 93.24 L617.84 92.19 L620.06 90.99 L622.22 89.67 L624.36 88.28 L626.48 86.83 L628.59 85.37 L630.72 83.93 L632.87 82.54 L635.06 81.24 L637.30 80.06 L639.61 79.02 L641.97 78.11 L644.39 77.34 L646.85 76.68 L649.34 76.13 L651.85 75.66 L654.39 75.28 L656.93 74.97 L659.47 74.71 L662.01 74.51 L664.55 74.38 L667.09 74.34 L669.63 74.40 L672.18 74.58 L674.73 74.83 L677.28 75.09 L679.82 75.31 L682.35 75.43 L684.86 75.40 L687.36 75.18 L689.84 74.79 L692.31 74.25 L694.76 73.59 L697.20 72.84 L699.63 72.04 L702.06 71.19 L704.48 70.35 L706.91 69.54 L709.34 68.80 L711.80 68.20 L714.29 67.77" fill="none" stroke="#04a33b" stroke-width="3.4" stroke-linejoin="round" stroke-linecap="round"/>
<path d="M89.25 760.41 L90.50 758.24 L91.78 756.08 L93.10 753.95 L94.45 751.83 L95.83 749.72 L97.24 747.63 L98.68 745.54 L100.14 743.47 L101.62 741.41 L103.11 739.36 L104.62 737.31 L106.14 735.27 L107.66 733.23 L109.20 731.20 L110.73 729.16 L112.27 727.13 L113.80 725.10 L115.33 723.06 L116.85 721.01 L118.36 718.97 L119.86 716.91 L121.34 714.85 L122.80 712.78 L124.24 710.70 L125.66 708.60 L127.04 706.49 L128.40 704.37 L129.73 702.23 L131.02 700.07 L132.27 697.90 L133.48 695.70 L134.64 693.49 L135.77 691.25 L136.84 688.99 L137.88 686.70 L138.88 684.40 L139.84 682.09 L140.77 679.75 L141.68 677.41 L142.56 675.05 L143.42 672.67 L144.26 670.29 L145.08 667.90 L145.90 665.51 L146.70 663.10 L147.50 660.70 L148.29 658.29 L149.09 655.88 L149.89 653.47 L150.69 651.06 L151.51 648.66 L152.34 646.26 L153.18 643.86 L154.04 641.47 L154.90 639.08 L155.78 636.70 L156.66 634.32 L157.55 631.95 L158.45 629.57 L159.36 627.20 L160.26 624.83 L161.17 622.46 L162.08 620.09 L162.99 617.73 L163.90 615.36 L164.81 612.99 L165.71 610.63 L166.61 608.26 L167.50 605.89 L168.39 603.52 L169.26 601.14 L170.13 598.76 L170.98 596.39 L171.83 594.00 L172.66 591.62 L173.49 589.23 L174.30 586.84 L175.11 584.45 L175.91 582.05 L176.70 579.65 L177.48 577.25 L178.25 574.85 L179.01 572.45 L179.77 570.04 L180.52 567.63 L181.26 565.22 L182.00 562.80 L182.73 560.39 L183.45 557.97 L184.16 555.55 L184.87 553.13 L185.58 550.71 L186.28 548.29 L186.97 545.86 L187.66 543.44 L188.34 541.01 L189.02 538.58 L189.70 536.15 L190.37 533.71 L191.04 531.28 L191.70 528.85 L192.36 526.41 L193.02 523.97 L193.68 521.54 L194.33 519.10 L194.98 516.66 L195.63 514.22 L196.28 511.78 L196.92 509.34 L197.57 506.89 L198.21 504.45 L198.86 502.01 L199.50 499.56 L200.14 497.12 L200.79 494.68 L201.43 492.23 L202.08 489.79 L202.72 487.34 L203.37 484.90 L204.02 482.45 L204.67 480.01 L205.32 477.57 L205.97 475.12 L206.63 472.68 L207.29 470.23 L207.95 467.79 L208.61 465.35 L209.28 462.91 L209.95 460.47 L210.63 458.02 L211.31 455.58 L212.00 453.15 L212.69 450.71 L213.38 448.27 L214.08 445.83 L214.79 443.40 L215.50 440.96 L216.21 438.53 L216.94 436.10 L217.67 433.67 L218.40 431.24 L219.15 428.81 L219.90 426.38 L220.66 423.96 L221.42 421.54 L222.20 419.12 L222.99 416.71 L223.80 414.30 L224.61 411.89 L225.44 409.49 L226.28 407.10 L227.14 404.72 L228.02 402.34 L228.91 399.97 L229.82 397.61 L230.75 395.26 L231.70 392.92 L232.67 390.58 L233.66 388.26 L234.68 385.96 L235.72 383.66 L236.78 381.38 L237.87 379.10 L238.99 376.85 L240.13 374.61 L241.30 372.38 L242.50 370.17 L243.72 367.97 L244.97 365.79 L246.25 363.62 L247.55 361.46 L248.87 359.32 L250.21 357.18 L251.57 355.06 L252.95 352.95 L254.34 350.84 L255.75 348.74 L257.17 346.66 L258.60 344.57 L260.04 342.50 L261.49 340.43 L262.95 338.36 L264.41 336.30 L265.88 334.24 L267.35 332.18 L268.82 330.13 L270.29 328.07 L271.77 326.02 L273.23 323.97 L274.70 321.91 L276.15 319.85 L277.61 317.79 L279.05 315.73 L280.49 313.66 L281.92 311.59 L283.34 309.52 L284.75 307.44 L286.16 305.36 L287.57 303.28 L288.97 301.19 L290.36 299.09 L291.74 296.99 L293.13 294.88 L294.50 292.77 L295.87 290.66 L297.24 288.54 L298.61 286.41 L299.97 284.28 L301.34 282.16 L302.71 280.03 L304.09 277.91 L305.49 275.80 L306.89 273.70 L308.32 271.61 L309.76 269.54 L311.23 267.48 L312.72 265.44 L314.23 263.43 L315.78 261.43 L317.36 259.47 L318.98 257.53 L320.62 255.61 L322.29 253.71 L323.98 251.83 L325.69 249.97 L327.41 248.11 L329.13 246.25 L330.86 244.40 L332.59 242.54 L334.30 240.67 L336.01 238.80 L337.71 236.91 L339.40 235.03 L341.10 233.16 L342.82 231.30 L344.55 229.46 L346.31 227.65 L348.10 225.88 L349.94 224.16 L351.82 222.49 L353.76 220.88 L355.75 219.34 L357.81 217.86 L359.90 216.42 L362.01 215.00 L364.12 213.58 L366.21 212.12 L368.26 210.62 L370.27 209.07 L372.26 207.50 L374.25 205.96 L376.28 204.47 L378.36 203.07 L380.52 201.80 L382.75 200.63 L385.03 199.54 L387.34 198.51 L389.68 197.52 L392.03 196.53 L394.36 195.52 L396.67 194.46 L398.94 193.34 L401.15 192.12 L403.30 190.78 L405.38 189.34 L407.42 187.83 L409.42 186.26 L411.41 184.67 L413.39 183.07 L415.38 181.49 L417.39 179.96 L419.44 178.49 L421.54 177.12 L423.70 175.86 L425.92 174.72 L428.20 173.68 L430.53 172.72 L432.89 171.83 L435.28 170.98 L437.69 170.16 L440.10 169.35 L442.51 168.53 L444.90 167.68 L447.28 166.78 L449.62 165.81 L451.93 164.79 L454.21 163.71 L456.47 162.59 L458.72 161.42 L460.94 160.23 L463.15 159.00 L465.36 157.76 L467.55 156.50 L469.75 155.24 L471.95 153.98 L474.15 152.73 L476.36 151.48 L478.57 150.25 L480.78 149.01 L482.99 147.78 L485.20 146.54 L487.40 145.30 L489.60 144.05 L491.80 142.79 L493.98 141.52 L496.16 140.24 L498.32 138.94 L500.47 137.62 L502.61 136.28 L504.74 134.93 L506.86 133.56 L508.97 132.18 L511.08 130.78 L513.18 129.38 L515.28 127.96 L517.38 126.54 L519.47 125.10 L521.56 123.66 L523.65 122.21 L525.75 120.77 L527.85 119.33 L529.97 117.92 L532.10 116.53 L534.25 115.19 L536.43 113.90 L538.63 112.67 L540.86 111.52 L543.13 110.45 L545.45 109.47 L547.80 108.59 L550.20 107.83 L552.64 107.21 L555.13 106.74 L557.64 106.37 L560.17 106.02 L562.67 105.60 L565.13 105.07 L567.55 104.39 L569.91 103.52 L572.21 102.50 L574.47 101.36 L576.70 100.15 L578.91 98.90 L581.12 97.64 L583.33 96.38 L585.54 95.12 L587.75 93.87 L589.96 92.64 L592.18 91.42 L594.41 90.22 L596.65 89.05 L598.91 87.90 L601.18 86.80 L603.47 85.73 L605.79 84.70 L608.12 83.73 L610.48 82.82 L612.86 81.98 L615.26 81.23 L617.70 80.57 L620.15 80.02 L622.64 79.58 L625.15 79.27 L627.69 79.10 L630.25 79.03 L632.81 79.00 L635.36 78.93 L637.88 78.74 L640.34 78.35 L642.75 77.71 L645.11 76.88 L647.45 75.92 L649.78 74.89 L652.13 73.86 L654.50 72.86 L656.89 71.93 L659.30 71.08 L661.73 70.36 L664.17 69.78 L666.63 69.39 L669.10 69.20 L671.58 69.23 L674.08 69.47 L676.58 69.86 L679.09 70.35 L681.61 70.91 L684.12 71.48 L686.64 72.02 L689.15 72.49 L691.65 72.85 L694.16 73.11 L696.66 73.31 L699.16 73.46 L701.67 73.58 L704.18 73.70 L706.69 73.83 L709.22 73.99 L711.75 74.21 L714.30 74.50" fill="none" stroke="#ff0b0b" stroke-width="3.4" stroke-linejoin="round" stroke-linecap="round"/>
<rect x="83.30" y="59.60" width="644.50" height="812.70" fill="none" stroke="#000" stroke-width="2.5"/>
<rect x="442.4" y="336.3" width="220.2" height="168.9" fill="#fff" stroke="#8e8e8e" stroke-width="1.4"/>
<path d="M451.6 350.60 H486.6" stroke="#1c12ff" stroke-width="3.2" stroke-linecap="round"/>
<text x="494.19" y="357.60" font-size="16.00" textLength="19.64" lengthAdjust="spacingAndGlyphs" fill="#141414" xml:space="preserve">GT</text>
<g fill="#303030">
<rect x="516.30" y="345.50" width="7.60" height="1.70"/>
<rect x="516.30" y="356.40" width="7.60" height="1.70"/>
<rect x="517.60" y="345.50" width="1.80" height="12.60"/>
<rect x="521.40" y="345.50" width="1.80" height="12.60"/>
</g>
<text x="532.42" y="357.60" font-size="16.00" textLength="107.10" lengthAdjust="spacingAndGlyphs" fill="#141414" xml:space="preserve">7460 Eg Output</text>
<path d="M451.6 378.70 H486.6" stroke="#04a33b" stroke-width="3.2" stroke-linecap="round"/>
<text x="494.19" y="385.00" font-size="16.00" textLength="19.64" lengthAdjust="spacingAndGlyphs" fill="#141414" xml:space="preserve">GT</text>
<g fill="#303030">
<rect x="516.30" y="372.90" width="7.60" height="1.70"/>
<rect x="516.30" y="383.80" width="7.60" height="1.70"/>
<rect x="517.60" y="372.90" width="1.80" height="12.60"/>
<rect x="521.40" y="372.90" width="1.80" height="12.60"/>
</g>
<text x="532.54" y="385.00" font-size="16.00" textLength="106.98" lengthAdjust="spacingAndGlyphs" fill="#141414" xml:space="preserve">8262 Eg Output</text>
<path d="M451.6 406.90 H486.6" stroke="#ff0b0b" stroke-width="3.2" stroke-linecap="round"/>
<text x="494.19" y="412.40" font-size="16.00" textLength="19.64" lengthAdjust="spacingAndGlyphs" fill="#141414" xml:space="preserve">GT</text>
<g fill="#303030">
<rect x="515.40" y="400.30" width="9.60" height="1.70"/>
<rect x="515.40" y="411.20" width="9.60" height="1.70"/>
<rect x="516.70" y="400.30" width="1.70" height="12.60"/>
<rect x="519.60" y="400.30" width="1.70" height="12.60"/>
<rect x="522.60" y="400.30" width="1.70" height="12.60"/>
</g>
<text x="526.93" y="412.40" font-size="16.00" textLength="97.38" lengthAdjust="spacingAndGlyphs" fill="#141414" xml:space="preserve">-RS Eg Output</text>
<path d="M451.5 434.80 H486.5" stroke="#1c12ff" stroke-width="3.2" stroke-dasharray="7 6.5" stroke-linecap="round"/>
<text x="494.19" y="439.80" font-size="16.00" textLength="19.64" lengthAdjust="spacingAndGlyphs" fill="#141414" xml:space="preserve">GT</text>
<g fill="#303030">
<rect x="516.30" y="427.70" width="7.60" height="1.70"/>
<rect x="516.30" y="438.60" width="7.60" height="1.70"/>
<rect x="517.60" y="427.70" width="1.80" height="12.60"/>
<rect x="521.40" y="427.70" width="1.80" height="12.60"/>
</g>
<text x="532.42" y="439.80" font-size="16.00" textLength="124.98" lengthAdjust="spacingAndGlyphs" fill="#141414" xml:space="preserve">7460 Boost Press.</text>
<path d="M451.5 463.00 H486.5" stroke="#04a33b" stroke-width="3.2" stroke-dasharray="7 6.5" stroke-linecap="round"/>
<text x="494.19" y="467.20" font-size="16.00" textLength="19.64" lengthAdjust="spacingAndGlyphs" fill="#141414" xml:space="preserve">GT</text>
<g fill="#303030">
<rect x="516.30" y="455.10" width="7.60" height="1.70"/>
<rect x="516.30" y="466.00" width="7.60" height="1.70"/>
<rect x="517.60" y="455.10" width="1.80" height="12.60"/>
<rect x="521.40" y="455.10" width="1.80" height="12.60"/>
</g>
<text x="532.54" y="467.20" font-size="16.00" textLength="124.86" lengthAdjust="spacingAndGlyphs" fill="#141414" xml:space="preserve">8262 Boost Press.</text>
<path d="M451.5 491.20 H486.5" stroke="#ff0b0b" stroke-width="3.2" stroke-dasharray="7 6.5" stroke-linecap="round"/>
<text x="494.19" y="494.60" font-size="16.00" textLength="19.64" lengthAdjust="spacingAndGlyphs" fill="#141414" xml:space="preserve">GT</text>
<g fill="#303030">
<rect x="515.40" y="482.50" width="9.60" height="1.70"/>
<rect x="515.40" y="493.40" width="9.60" height="1.70"/>
<rect x="516.70" y="482.50" width="1.70" height="12.60"/>
<rect x="519.60" y="482.50" width="1.70" height="12.60"/>
<rect x="522.60" y="482.50" width="1.70" height="12.60"/>
</g>
<text x="526.93" y="494.60" font-size="16.00" textLength="115.95" lengthAdjust="spacingAndGlyphs" fill="#141414" xml:space="preserve">-RS Boost Press.</text>
<text x="68.46" y="895.80" font-size="14.00" textLength="30.42" lengthAdjust="spacingAndGlyphs" fill="#141414" xml:space="preserve">2000</text>
<text x="119.72" y="895.80" font-size="14.00" textLength="29.90" lengthAdjust="spacingAndGlyphs" fill="#141414" xml:space="preserve">2500</text>
<text x="176.14" y="895.80" font-size="14.00" textLength="29.73" lengthAdjust="spacingAndGlyphs" fill="#141414" xml:space="preserve">3000</text>
<text x="232.39" y="895.80" font-size="14.00" textLength="29.73" lengthAdjust="spacingAndGlyphs" fill="#141414" xml:space="preserve">3500</text>
<text x="283.85" y="895.80" font-size="14.00" textLength="29.52" lengthAdjust="spacingAndGlyphs" fill="#141414" xml:space="preserve">4000</text>
<text x="340.10" y="895.80" font-size="14.00" textLength="29.52" lengthAdjust="spacingAndGlyphs" fill="#141414" xml:space="preserve">4500</text>
<text x="396.11" y="895.80" font-size="14.00" textLength="29.76" lengthAdjust="spacingAndGlyphs" fill="#141414" xml:space="preserve">5000</text>
<text x="447.87" y="895.80" font-size="14.00" textLength="29.24" lengthAdjust="spacingAndGlyphs" fill="#141414" xml:space="preserve">5500</text>
<text x="503.47" y="895.80" font-size="14.00" textLength="29.65" lengthAdjust="spacingAndGlyphs" fill="#141414" xml:space="preserve">6000</text>
<text x="555.22" y="895.80" font-size="14.00" textLength="29.91" lengthAdjust="spacingAndGlyphs" fill="#141414" xml:space="preserve">6500</text>
<text x="611.46" y="895.80" font-size="14.00" textLength="29.91" lengthAdjust="spacingAndGlyphs" fill="#141414" xml:space="preserve">7000</text>
<text x="662.72" y="895.80" font-size="14.00" textLength="29.39" lengthAdjust="spacingAndGlyphs" fill="#141414" xml:space="preserve">7500</text>
<text x="66.16" y="876.40" font-size="14.00" textLength="7.79" lengthAdjust="spacingAndGlyphs" fill="#141414" xml:space="preserve">0</text>
<text x="58.37" y="785.94" font-size="14.00" textLength="15.57" lengthAdjust="spacingAndGlyphs" fill="#141414" xml:space="preserve">50</text>
<text x="50.59" y="695.48" font-size="14.00" textLength="23.36" lengthAdjust="spacingAndGlyphs" fill="#141414" xml:space="preserve">100</text>
<text x="50.59" y="605.02" font-size="14.00" textLength="23.36" lengthAdjust="spacingAndGlyphs" fill="#141414" xml:space="preserve">150</text>
<text x="50.59" y="514.56" font-size="14.00" textLength="23.36" lengthAdjust="spacingAndGlyphs" fill="#141414" xml:space="preserve">200</text>
<text x="50.59" y="424.10" font-size="14.00" textLength="23.36" lengthAdjust="spacingAndGlyphs" fill="#141414" xml:space="preserve">250</text>
<text x="50.59" y="333.64" font-size="14.00" textLength="23.36" lengthAdjust="spacingAndGlyphs" fill="#141414" xml:space="preserve">300</text>
<text x="50.59" y="243.18" font-size="14.00" textLength="23.36" lengthAdjust="spacingAndGlyphs" fill="#141414" xml:space="preserve">350</text>
<text x="50.59" y="152.72" font-size="14.00" textLength="23.36" lengthAdjust="spacingAndGlyphs" fill="#141414" xml:space="preserve">400</text>
<text x="50.59" y="62.26" font-size="14.00" textLength="23.36" lengthAdjust="spacingAndGlyphs" fill="#141414" xml:space="preserve">450</text>
<text x="741.92" y="606.00" font-size="14.00" textLength="7.79" lengthAdjust="spacingAndGlyphs" fill="#141414" xml:space="preserve">2</text>
<text x="741.90" y="740.40" font-size="14.00" textLength="7.79" lengthAdjust="spacingAndGlyphs" fill="#141414" xml:space="preserve">1</text>
<text x="741.76" y="874.90" font-size="14.00" textLength="7.79" lengthAdjust="spacingAndGlyphs" fill="#141414" xml:space="preserve">0</text>
<text x="371.09" y="920.40" font-size="16.00" textLength="89.83" lengthAdjust="spacingAndGlyphs" fill="#141414" xml:space="preserve">Engine RPM</text>
<text transform="translate(36.10 532.60) rotate(-90)" x="-1.42" y="0" font-size="16.00" textLength="110.34" lengthAdjust="spacingAndGlyphs" fill="#141414" xml:space="preserve">Engine Output</text>
<text transform="translate(36.10 417.00) rotate(-90)" x="-0.95" y="0" font-size="16.00" textLength="30.49" lengthAdjust="spacingAndGlyphs" fill="#141414" xml:space="preserve">(PS)</text>
<text transform="translate(778.30 812.60) rotate(-90)" x="-1.34" y="0" font-size="16.00" textLength="111.26" lengthAdjust="spacingAndGlyphs" fill="#141414" xml:space="preserve">Boost Pressure</text>
<text transform="translate(778.30 696.20) rotate(-90)" x="-1.10" y="0" font-size="16.00" textLength="29.50" lengthAdjust="spacingAndGlyphs" fill="#141414" xml:space="preserve">(kg/</text>
<g transform="translate(778.3 666.4) rotate(-90)">
<text x="-0.42" y="0" font-size="15.5" textLength="13.06" lengthAdjust="spacingAndGlyphs" fill="#141414">cm</text>
<text x="9.6" y="-7.6" font-size="6" fill="#141414">2</text>
</g>
<text transform="translate(778.30 651.00) rotate(-90)" x="-0.11" y="0" font-size="16.00" textLength="6.03" lengthAdjust="spacingAndGlyphs" fill="#141414" xml:space="preserve">)</text>
<text x="115.38" y="38.70" font-size="18.60" font-weight="bold" style="stroke:none" textLength="27.84" lengthAdjust="spacingAndGlyphs" fill="#141414" xml:space="preserve">GT</text>
<g fill="#141414">
<rect x="145.60" y="25.00" width="14.60" height="2.20"/>
<rect x="145.60" y="36.70" width="14.60" height="2.20"/>
<rect x="147.00" y="25.00" width="2.60" height="13.90"/>
<rect x="152.00" y="25.00" width="2.60" height="13.90"/>
<rect x="156.50" y="25.00" width="2.60" height="13.90"/>
</g>
<text x="170.36" y="38.70" font-size="18.60" font-weight="bold" style="stroke:none" textLength="25.77" lengthAdjust="spacingAndGlyphs" fill="#141414" xml:space="preserve">RS</text>
<g fill="none" stroke="#141414" stroke-linecap="round">
<path d="M200.4 29.6 H212.6 M200.4 33.8 H212.6" stroke-width="1.5"/>
<path d="M202.9 27.0 Q201.0 30.4 198.4 31.7 Q201.0 33.0 202.9 36.4 M210.3 27.0 Q212.2 30.4 214.8 31.7 Q212.2 33.0 210.3 36.4" stroke-width="1.3"/>
</g>
<text x="217.41" y="38.70" font-size="18.60" font-weight="bold" style="stroke:none" textLength="26.80" lengthAdjust="spacingAndGlyphs" fill="#141414" xml:space="preserve">GT</text>
<g fill="#141414">
<rect x="248.00" y="25.10" width="12.00" height="2.20"/>
<rect x="248.00" y="36.70" width="12.00" height="2.20"/>
<rect x="250.30" y="25.10" width="2.60" height="13.80"/>
<rect x="255.60" y="25.10" width="2.60" height="13.80"/>
</g>
<text x="265.22" y="38.70" font-size="18.60" font-weight="bold" style="stroke:none" textLength="50.71" lengthAdjust="spacingAndGlyphs" fill="#141414" xml:space="preserve">7460</text>
<text x="318.70" y="38.70" font-size="18.60" font-weight="bold" style="stroke:none" textLength="14.73" lengthAdjust="spacingAndGlyphs" fill="#141414" xml:space="preserve">&amp;</text>
<text x="336.46" y="38.70" font-size="18.60" font-weight="bold" style="stroke:none" textLength="51.87" lengthAdjust="spacingAndGlyphs" fill="#141414" xml:space="preserve">8262</text>
<text x="394.90" y="39.30" font-size="18.60" textLength="8.04" lengthAdjust="spacingAndGlyphs" fill="#141414" xml:space="preserve" style="stroke-width:0.6px">(</text>
<text x="405.42" y="38.70" font-size="18.60" font-weight="bold" style="stroke:none" textLength="78.84" lengthAdjust="spacingAndGlyphs" fill="#141414" xml:space="preserve">@Boost</text>
<text x="491.75" y="38.70" font-size="18.60" font-weight="bold" style="stroke:none" textLength="147.89" lengthAdjust="spacingAndGlyphs" fill="#141414" xml:space="preserve">Pressure1.8kg</text>
<path d="M641.2 40.4 L648.6 24.6" stroke="#141414" stroke-width="1.7" stroke-linecap="round"/>
<text x="652.63" y="37.00" font-size="17.00" textLength="17.85" lengthAdjust="spacingAndGlyphs" fill="#141414" xml:space="preserve" style="stroke-width:0.7px">cm</text>
<text x="666.2" y="27.9" font-size="7.2" style="stroke-width:0.2px" fill="#141414">2</text>
<text x="673.06" y="39.30" font-size="18.60" textLength="8.04" lengthAdjust="spacingAndGlyphs" fill="#141414" xml:space="preserve" style="stroke-width:0.6px">)</text>
<rect x="0.7" y="0.7" width="798.6" height="935.6" fill="none" stroke="#8e8e8e" stroke-width="1.6"/>
</g></svg></body></html>
